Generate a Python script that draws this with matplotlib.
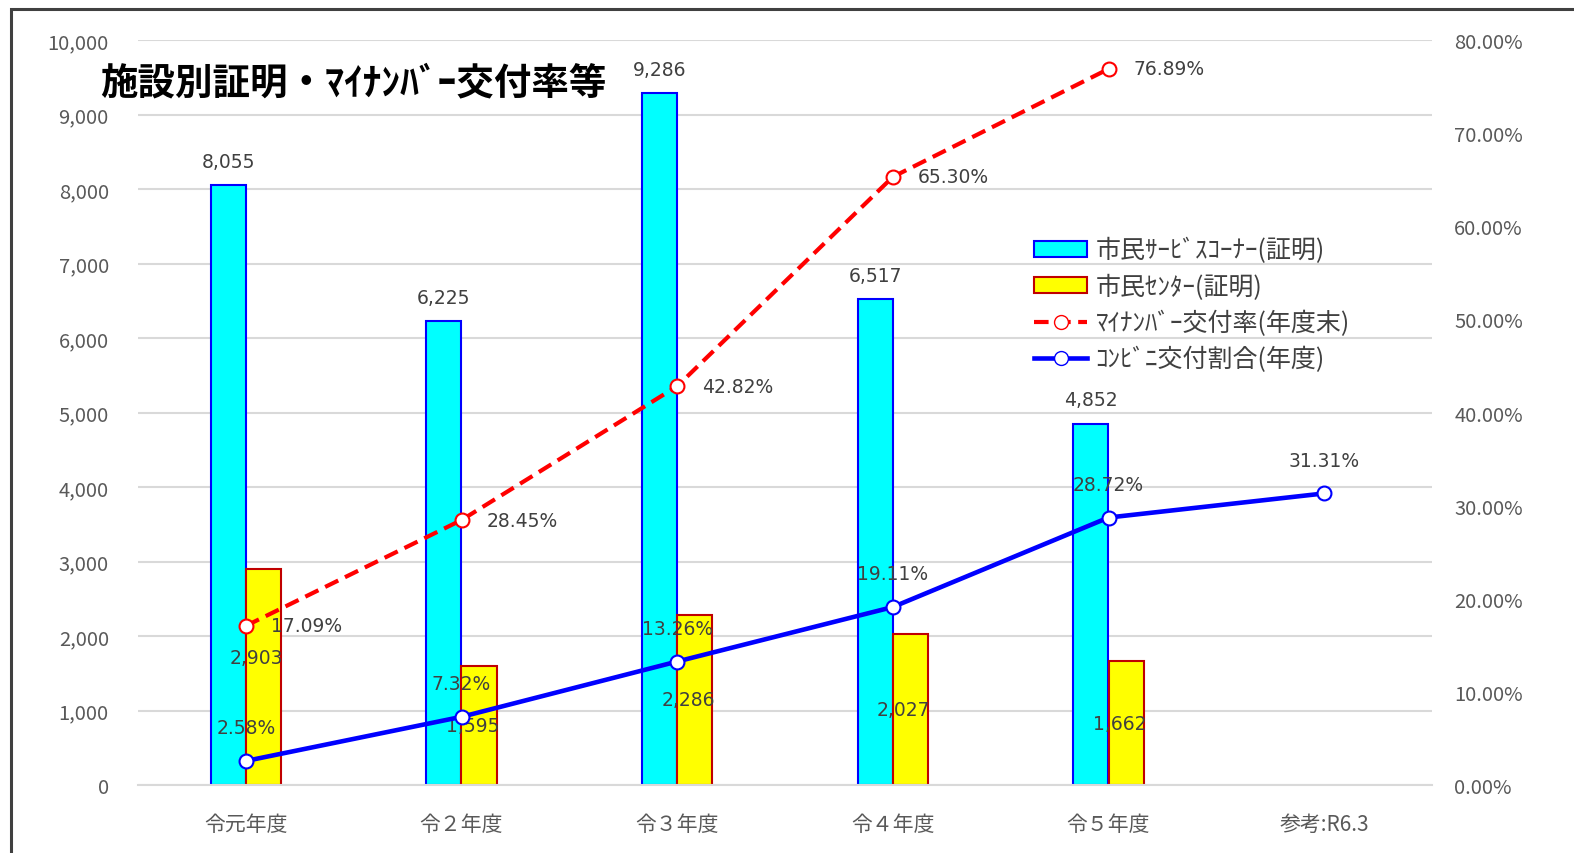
import matplotlib
matplotlib.use("Agg")
import matplotlib.pyplot as plt
import numpy as np
from matplotlib.lines import Line2D
from matplotlib.patches import Patch, Rectangle
from matplotlib.ticker import FuncFormatter, MultipleLocator

plt.rcParams['font.family'] = ['Noto Sans CJK JP', 'DejaVu Sans']

# data
categories = ["令元年度", "令２年度", "令３年度", "令４年度", "令５年度", "参考:R6.3"]
corner = [8055, 6225, 9286, 6517, 4852, np.nan]        # 市民ｻｰﾋﾞｽｺｰﾅｰ(証明)
center = [2903, 1595, 2286, 2027, 1662, np.nan]        # 市民ｾﾝﾀｰ(証明)
mynumber_rate = [17.09, 28.45, 42.82, 65.30, 76.89, np.nan]   # ﾏｲﾅﾝﾊﾞｰ交付率(年度末)
konbini_rate = [2.58, 7.32, 13.26, 19.11, 28.72, 31.31]      # ｺﾝﾋﾞﾆ交付割合(年度)
center_label_pos = [0.59, 0.5, 0.5, 0.5, 0.5]

TITLE = "施設別証明・ﾏｲﾅﾝﾊﾞｰ交付率等"
LABELS = ["市民ｻｰﾋﾞｽｺｰﾅｰ(証明)", "市民ｾﾝﾀｰ(証明)",
          "ﾏｲﾅﾝﾊﾞｰ交付率(年度末)", "ｺﾝﾋﾞﾆ交付割合(年度)"]

TXT = "#404040"
TICK = "#595959"
GRID = "#D9D9D9"
DASH = (0, (3.5, 1.8))

fig = plt.figure(figsize=(15.74, 8.54), dpi=100)
ax = fig.add_axes([138 / 1574, 1 - 786 / 854, (1432 - 138) / 1574, (786 - 41) / 854])
ax2 = ax.twinx()

x = np.arange(len(categories))
w = 0.163

ax.bar(x - w / 2, corner, w, color="#00FFFF", edgecolor="#0000FF", linewidth=1.5, zorder=2)
ax.bar(x + w / 2, center, w, color="#FFFF00", edgecolor="#C00000", linewidth=1.5, zorder=2)

ax.set_xlim(-0.5, len(categories) - 0.5)
ax.set_ylim(0, 10000)
ax.yaxis.set_major_locator(MultipleLocator(1000))
ax.yaxis.set_major_formatter(FuncFormatter(lambda v, p: f"{int(v):,}"))
ax.grid(axis="y", color=GRID, linewidth=1.5, zorder=0)
ax.set_axisbelow(True)
for s in ["top", "left", "right"]:
    ax.spines[s].set_visible(False)
ax.spines["bottom"].set_color(GRID)
ax.spines["bottom"].set_linewidth(1.5)
ax.tick_params(axis="y", length=0, pad=21, labelsize=14.5, labelcolor=TICK)
ax.tick_params(axis="x", length=0, pad=20, labelsize=15, labelcolor=TICK)
ax.set_xticks(x)
ax.set_xticklabels(categories)

ax2.set_ylim(0, 80)
ax2.yaxis.set_major_locator(MultipleLocator(10))
ax2.yaxis.set_major_formatter(FuncFormatter(lambda v, p: f"{v:.2f}%"))
for s in ["top", "left", "right", "bottom"]:
    ax2.spines[s].set_visible(False)
ax2.tick_params(axis="y", length=0, pad=16, labelsize=14.5, labelcolor=TICK)

ax2.plot(x, mynumber_rate, color="#FF0000", linewidth=3, linestyle=DASH,
         marker="o", markersize=10, markerfacecolor="white", markeredgecolor="#FF0000",
         markeredgewidth=1.5, zorder=3)
ax2.plot(x, konbini_rate, color="#0000FF", linewidth=3.3,
         marker="o", markersize=10, markerfacecolor="white", markeredgecolor="#0000FF",
         markeredgewidth=1.5, zorder=3)

# bar labels
for i, v in enumerate(corner):
    if not np.isnan(v):
        ax.annotate(f"{int(v):,}", (x[i] - w / 2, v), xytext=(0, 17), textcoords="offset points",
                    ha="center", va="center", fontsize=13.5, color=TXT, family="DejaVu Sans")
for i, v in enumerate(center):
    if not np.isnan(v):
        ax.text(x[i] + 0.05, v * center_label_pos[i], f"{int(v):,}", ha="center", va="center",
                fontsize=13.5, color=TXT, family="DejaVu Sans", zorder=4)

# line labels
for i, v in enumerate(mynumber_rate):
    if not np.isnan(v):
        ax2.annotate(f"{v:.2f}%", (x[i], v), xytext=(18, 0), textcoords="offset points",
                     ha="left", va="center", fontsize=13.5, color=TXT, family="DejaVu Sans", zorder=5)
for i, v in enumerate(konbini_rate):
    ax2.annotate(f"{v:.2f}%", (x[i], v), xytext=(0, 24), textcoords="offset points",
                 ha="center", va="center", fontsize=13.5, color=TXT, family="DejaVu Sans", zorder=5)

handles = [
    Patch(facecolor="#00FFFF", edgecolor="#0000FF", linewidth=1.5),
    Patch(facecolor="#FFFF00", edgecolor="#C00000", linewidth=1.5),
    Line2D([], [], color="#FF0000", linewidth=3, linestyle=DASH, marker="o",
           markersize=10, markerfacecolor="white", markeredgecolor="#FF0000"),
    Line2D([], [], color="#0000FF", linewidth=3.3, marker="o",
           markersize=10, markerfacecolor="white", markeredgecolor="#0000FF"),
]
ax2.legend(handles, LABELS, loc="upper left", bbox_to_anchor=(0.683, 0.752), frameon=False,
           fontsize=18, labelcolor=TXT, handlelength=2.1, handleheight=0.6,
           labelspacing=0.4, handletextpad=0.35, borderpad=0)

fig.text(100 / 1574, 1 - 83 / 854, TITLE, fontsize=27, fontweight="bold", color="black",
         ha="left", va="center")

fig.patches.append(Rectangle((11 / 1574, -0.1), 1.2, 1 - 10 / 854 + 0.1, transform=fig.transFigure,
                             fill=False, edgecolor="#404040", linewidth=2.2))

fig.savefig("out.png", dpi=100)
